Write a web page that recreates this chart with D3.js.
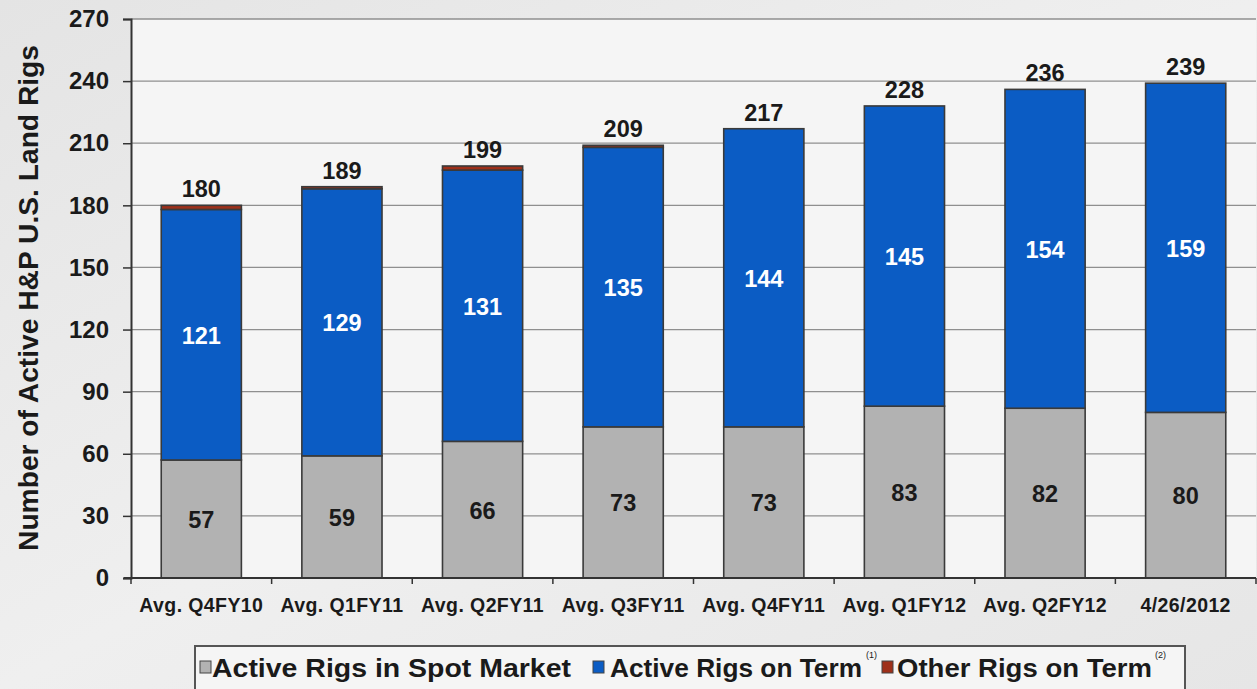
<!DOCTYPE html>
<html><head><meta charset="utf-8">
<script src="https://cdn.jsdelivr.net/npm/d3@7"></script>
<style>
html,body{margin:0;padding:0;background:#ececec;}
svg{display:block;font-family:"Liberation Sans",Arial,sans-serif;}
</style></head>
<body>
<svg id="chart" width="1257" height="689"></svg>
<script>
const categories = ["Avg. Q4FY10","Avg. Q1FY11","Avg. Q2FY11","Avg. Q3FY11","Avg. Q4FY11","Avg. Q1FY12","Avg. Q2FY12","4/26/2012"];
const spotRigs  = [57,59,66,73,73,83,82,80];
const termRigs  = [121,129,131,135,144,145,154,159];
const otherRigs = [2,1,2,1,0,0,0,0];
const yTicks = [0,30,60,90,120,150,180,210,240,270];
const seriesNames = ["Active Rigs in Spot Market","Active Rigs on Term","Other Rigs on Term"];
const seriesColors = ["#b2b2b2","#0b5cc4","#9e301a"];

const svg = d3.select("#chart");
const W = 1257, H = 689;
const m = {left:131, top:19, right:1256, bottom:578};

const defs = svg.append("defs");
const g1 = defs.append("linearGradient").attr("id","bg").attr("x1","0").attr("y1","0").attr("x2","1").attr("y2","1");
g1.append("stop").attr("offset","0").attr("stop-color","#e4e4e4");
g1.append("stop").attr("offset","0.5").attr("stop-color","#efefef");
g1.append("stop").attr("offset","1").attr("stop-color","#e6e6e6");
svg.append("rect").attr("width",W).attr("height",H).attr("fill","url(#bg)");
svg.append("rect").attr("x",m.left).attr("y",m.top).attr("width",m.right-m.left).attr("height",m.bottom-m.top).attr("fill","#f5f5f5");

const x = d3.scaleBand().domain(categories).range([m.left,m.right]).paddingInner(0.43).paddingOuter(0.215);
const y = d3.scaleLinear().domain([0,270]).range([m.bottom,m.top]);

// gridlines
svg.append("g").selectAll("line").data(yTicks.filter(d=>d>0)).join("line")
  .attr("x1",m.left).attr("x2",m.right).attr("y1",d=>y(d)).attr("y2",d=>y(d))
  .attr("stroke","#8f8f8f").attr("stroke-width",1.3);

// stacked data
const data = categories.map((c,i)=>({cat:c, spot:spotRigs[i], term:termRigs[i], other:otherRigs[i]}));
const stack = d3.stack().keys(["spot","term","other"])(data);
svg.append("g").selectAll("g").data(stack).join("g")
  .attr("fill",(d,i)=>seriesColors[i])
  .selectAll("rect").data(d=>d.filter(p=>p[1]-p[0]>0)).join("rect")
  .attr("x",d=>x(d.data.cat)).attr("width",x.bandwidth())
  .attr("y",d=>y(d[1])).attr("height",d=>y(d[0])-y(d[1]))
  .attr("stroke","#3a3a3a").attr("stroke-width",1.6);

// axes
const yAxis = d3.axisLeft(y).tickValues(yTicks).tickSize(8).tickPadding(14);
const ya = svg.append("g").attr("transform",`translate(${m.left},0)`).call(yAxis);
ya.select(".domain").attr("stroke","#333").attr("stroke-width",2);
ya.selectAll(".tick line").attr("stroke","#333").attr("stroke-width",1.5);
ya.selectAll(".tick text").attr("font-size",24).attr("font-weight","bold").attr("fill","#1a1a1a");

const xAxis = d3.axisBottom(x).tickSize(0).tickPadding(20);
const xa = svg.append("g").attr("transform",`translate(0,${m.bottom})`).call(xAxis);
xa.select(".domain").remove();
svg.append("line").attr("x1",m.left-7).attr("x2",m.right).attr("y1",m.bottom).attr("y2",m.bottom).attr("stroke","#333").attr("stroke-width",2);
xa.selectAll(".tick text").attr("font-size",19.5).attr("font-weight","bold").attr("fill","#1a1a1a").attr("letter-spacing","0.4px");
// category boundary ticks
const step = x.step();
svg.append("g").selectAll("line").data(d3.range(categories.length+1)).join("line")
  .attr("x1",i=>m.left+i*step).attr("x2",i=>m.left+i*step)
  .attr("y1",m.bottom).attr("y2",m.bottom+6).attr("stroke","#333").attr("stroke-width",1.5);

// value labels
const lab = svg.append("g").attr("font-weight","bold").attr("font-size",23.5).attr("text-anchor","middle");
data.forEach(d=>{
  const cx = x(d.cat)+x.bandwidth()/2;
  lab.append("text").attr("x",cx).attr("y",y(d.spot/2)+9).attr("fill","#1a1a1a").text(d.spot);
  lab.append("text").attr("x",cx).attr("y",y(d.spot+d.term/2)+9).attr("fill","#ffffff").text(d.term);
  const tot = d.spot+d.term+d.other;
  lab.append("text").attr("x",cx).attr("y",y(tot)-8).attr("fill","#1a1a1a").text(tot);
});

// y title
svg.append("text").attr("transform",`translate(38,298) rotate(-90)`)
  .attr("text-anchor","middle").attr("font-size",27).attr("font-weight","bold").attr("fill","#1a1a1a")
  .attr("textLength",506).attr("lengthAdjust","spacingAndGlyphs")
  .text("Number of Active H&P U.S. Land Rigs");

// legend
svg.append("rect").attr("x",195).attr("y",646).attr("width",990).attr("height",60)
  .attr("fill","#f5f5f5").attr("stroke","#555").attr("stroke-width",2);
const leg = [
  {sx:200, tx:212, tw:359, sup:null},
  {sx:593, tx:610, tw:252, sup:"(1)", supx:866},
  {sx:882, tx:897, tw:255, sup:"(2)", supx:1155}
];
leg.forEach((l,i)=>{
  svg.append("rect").attr("x",l.sx).attr("y",661).attr("width",11).attr("height",12)
    .attr("fill",seriesColors[i]).attr("stroke","#444").attr("stroke-width",1);
  svg.append("text").attr("x",l.tx).attr("y",677).attr("font-size",26).attr("font-weight","bold").attr("fill","#1a1a1a")
    .attr("textLength",l.tw).attr("lengthAdjust","spacingAndGlyphs").text(seriesNames[i]);
  if(l.sup) svg.append("text").attr("x",l.supx).attr("y",658).attr("font-size",9).attr("fill","#1a1a1a").text(l.sup);
});
</script>
</body></html>
